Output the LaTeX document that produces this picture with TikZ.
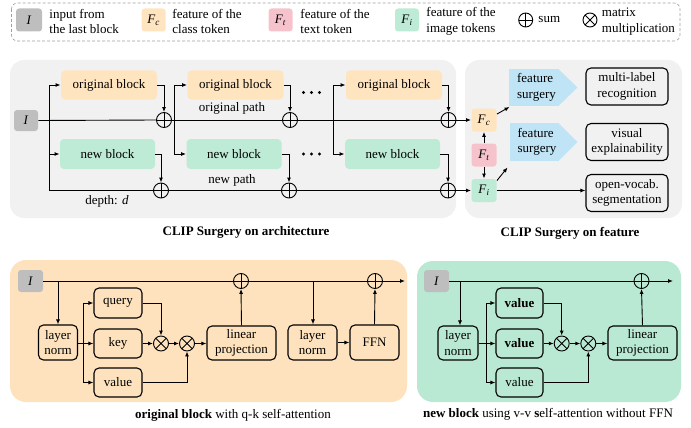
\documentclass[tikz,border=0pt]{standalone}
\usepackage{fontspec}
\setmainfont{Liberation Serif}
\usetikzlibrary{arrows.meta,calc}
\definecolor{greyB}{HTML}{BEBEBE}
\definecolor{panelgrey}{HTML}{F1F1F1}
\definecolor{orangeB}{HTML}{FFE4C0}
\definecolor{greenB}{HTML}{BDEBD6}
\definecolor{pinkB}{HTML}{F6C3CD}
\definecolor{blueB}{HTML}{BFE4F6}
\definecolor{orangeP}{HTML}{FDE2BD}
\definecolor{greenP}{HTML}{B9E9D3}
\definecolor{dashgrey}{HTML}{A0A0A0}
\begin{document}
\begin{tikzpicture}[x=1pt,y=-1pt,
  font=\fontsize{13}{15.5}\selectfont,
  line width=0.9pt,
  arr/.style={-{Latex[length=5pt,width=4pt]}},
  blk/.style={rounded corners=4pt, inner sep=0pt, align=center},
  ibox/.style={blk, fill=greyB, minimum width=25pt, minimum height=22pt, rounded corners=3pt},
  oblk/.style={blk, fill=orangeB, minimum width=96pt, minimum height=29pt},
  nblk/.style={blk, fill=greenB, minimum width=95pt, minimum height=30pt},
  fbox/.style={blk, minimum width=25pt, minimum height=23pt, rounded corners=3pt},
  fsb/.style={inner sep=0pt, fill=blueB, minimum width=49pt, minimum height=37pt, align=left},
  outb/.style={draw, rounded corners=5pt, inner sep=0pt, minimum width=82pt, minimum height=37pt, align=center, line width=1.1pt},
  inb/.style={draw, rounded corners=5pt, inner sep=0pt, align=center, line width=1.1pt},
  sumn/.style={circle, draw, minimum size=15pt, inner sep=0pt,
    path picture={\draw (path picture bounding box.north) -- (path picture bounding box.south)
      (path picture bounding box.west) -- (path picture bounding box.east);}},
  muln/.style={circle, draw, minimum size=15pt, inner sep=0pt,
    path picture={\draw (path picture bounding box.north west) -- (path picture bounding box.south east)
      (path picture bounding box.north east) -- (path picture bounding box.south west);}},
  legt/.style={anchor=west, align=left, inner sep=0pt},
]
\useasboundingbox (0,0) rectangle (691,428);

% ---------------- legend ----------------
\draw[dashgrey, dashed, dash pattern=on 3pt off 2pt, line width=0.6pt, rounded corners=6pt] (11.5,3) rectangle (680,41);
\node[ibox, minimum width=26pt, minimum height=23pt] (lgI) at (29,20) {\textit{I}};
\node[legt] (lgIt) at (49,21.5) {input from\\the last block};
\node[fbox, fill=orangeB, minimum width=24pt] (lgFc) at (153.7,20) {\textit{F}\textsubscript{\textit{c}}};
\node[legt] (lgFct) at (172,21.5) {feature of the\\class token};
\node[fbox, fill=pinkB, minimum width=24pt] (lgFt) at (280.5,20) {\textit{F}\textsubscript{\textit{t}}};
\node[legt] (lgFtt) at (300,21.5) {feature of the\\text token};
\node[fbox, fill=greenB, minimum width=24pt] (lgFi) at (407,20) {\textit{F}\textsubscript{\textit{i}}};
\node[legt] (lgFit) at (426,21.5) {feature of the\\image tokens};
\node[sumn, minimum size=14pt] (lgsum) at (525.7,20) {};
\node[legt] (lgsumt) at (538,20) {sum};
\node[muln, minimum size=14pt] (lgmul) at (590,20) {};
\node[legt] (lgmult) at (601.5,21.5) {matrix\\multiplication};

% ---------------- top panels ----------------
\fill[panelgrey, rounded corners=14pt] (10,60) rectangle (456,218);
\fill[panelgrey, rounded corners=14pt] (465,60) rectangle (682,218);

\node[ibox, minimum width=24pt, minimum height=21pt] (I1) at (26,120.5) {\textit{I}};
\node[oblk] (o1) at (109,85) {original block};
\node[oblk] (o2) at (235.5,85) {original block};
\node[oblk] (o3) at (394,85) {original block};
\node[nblk] (n1) at (107.5,154) {new block};
\node[nblk] (n2) at (234,154) {new block};
\node[nblk] (n3) at (392.5,154) {new block};
\node[sumn] (so1) at (164,120) {};
\node[sumn] (so2) at (290,120) {};
\node[sumn] (so3) at (448.5,120) {};
\node[sumn] (sn1) at (161,190.5) {};
\node[sumn] (sn2) at (289,190.5) {};
\node[sumn] (sn3) at (448,190.5) {};
\coordinate (j1) at (49,120);
\coordinate (j1b) at (49,190.5);
\coordinate (j2) at (174,120);
\coordinate (j3) at (333,120);

\node[fbox, fill=orangeB] (Fc) at (484,120) {\textit{F}\textsubscript{\textit{c}}};
\node[fbox, fill=pinkB] (Ft) at (484,155) {\textit{F}\textsubscript{\textit{t}}};
\node[fbox, fill=greenB] (Fi) at (484,190.5) {\textit{F}\textsubscript{\textit{i}}};

\draw (I1.east) -- (so1.west);
\draw (so1.east) -- (so2.west);
\draw (so2.east) -- (so3.west);
\draw[arr] (so3.east) -- (Fc.west);
\draw (j1) -- (j1b) -- (sn1.west);
\draw (sn1.east) -- (sn2.west);
\draw (sn2.east) -- (sn3.west);
\draw[arr] (sn3.east) -- (Fi.west);
\draw[arr] (j1) |- (o1.west);
\draw[arr] (j1) |- (n1.west);
\draw[arr] (j2) |- (o2.west);
\draw[arr] (j2) |- (n2.west);
\draw[arr] (j3) |- (o3.west);
\draw[arr] (j3) |- (n3.west);
\draw[arr] (o1.east) -| (so1.north);
\draw[arr] (o2.east) -| (so2.north);
\draw[arr] (o3.east) -| (so3.north);
\draw[arr] (n1.east) -| (sn1.north);
\draw[arr] (n2.east) -| (sn2.north);
\draw[arr] (n3.east) -| (sn3.north);

\foreach \x in {303.5,311.5,319.5} {\fill (\x,92.5) circle (1.7pt); \fill (\x,154) circle (1.7pt);}

\node (lop) at (232,108.5) {original path};
\node (lnp) at (232,180.5) {new path};
\node (ldep) at (107,201.5) {depth: \textit{d}};

\draw[arr] (Ft.north) -- (Fc.south);
\draw[arr] (Ft.south) -- (Fi.north);

\node[fsb] (fs1) at (533.5,87.5) {\hspace*{6pt}feature\\\hspace*{6pt}surgery};
\fill[blueB] ([xshift=-0.5pt]fs1.north east) -- ([xshift=19pt]fs1.east) -- ([xshift=-0.5pt]fs1.south east) -- cycle;
\node[fsb, minimum width=48pt, minimum height=38pt] (fs2) at (534,142) {\hspace*{6pt}feature\\\hspace*{6pt}surgery};
\fill[blueB] ([xshift=-0.5pt]fs2.north east) -- ([xshift=19pt]fs2.east) -- ([xshift=-0.5pt]fs2.south east) -- cycle;

\node[outb] (r1) at (627,86.5) {multi-label\\recognition};
\node[outb] (r2) at (627,142) {visual\\explainability};
\node[outb] (r3) at (627,193) {open-vocab.\\segmentation};

\draw[arr] ([yshift=-6pt]Fc.north east) -- ([xshift=1pt,yshift=-0.5pt]fs1.south west);
\draw[arr] ([yshift=-2pt]Fi.north east) -- ([xshift=-2pt,yshift=-6pt]fs2.south west);
\draw[arr] (Fi.east) -- (Fi.east -| r3.west);

\node[font=\fontsize{13}{15.5}\selectfont\bfseries] (t1) at (246,232.5) {CLIP Surgery on architecture};
\node[font=\fontsize{13}{15.5}\selectfont\bfseries] (t2) at (570,233) {CLIP Surgery on feature};

% ---------------- bottom left: original block ----------------
\fill[orangeP, rounded corners=16pt] (10,260) rectangle (407,402);
\node[ibox] (I2) at (30.5,281) {\textit{I}};
\node[sumn] (sa) at (241,281) {};
\node[sumn] (sb) at (375,281) {};
\coordinate (eA) at (405,281);
\coordinate (ja) at (58,281);
\coordinate (jb) at (313,281);
\node[inb, minimum width=39pt, minimum height=35pt] (ln1) at (58,342.5) {layer\\norm};
\node[inb, minimum width=48pt, minimum height=30pt] (q) at (118,303) {query};
\node[inb, minimum width=48pt, minimum height=29pt] (k) at (118,343.5) {key};
\node[inb, minimum width=48pt, minimum height=29pt] (v) at (118,382.5) {value};
\coordinate (bra) at (83,343.5);
\node[muln] (m1) at (161,343.5) {};
\node[muln] (m2) at (187,343.5) {};
\node[inb, minimum width=69pt, minimum height=34pt] (lp) at (241.5,343) {linear\\projection};
\node[inb, minimum width=49pt, minimum height=35pt] (ln2) at (312.5,342.5) {layer\\norm};
\node[inb, minimum width=49pt, minimum height=35pt] (ffn) at (374.5,342.5) {FFN};

\draw (I2.east) -- (sa.west);
\draw (sa.east) -- (sb.west);
\draw[arr] (sb.east) -- (eA);
\draw[arr] (ja) -- (ja |- ln1.north);
\draw (ln1.east |- bra) -- (bra);
\draw[arr] (bra) |- (q.west);
\draw[arr] (bra) -- (k.west);
\draw[arr] (bra) |- (v.west);
\draw[arr] (q.east) -| (m1.north);
\draw[arr] (k.east) -- (m1.west);
\draw[arr] (m1.east) -- (m2.west);
\draw[arr] (v.east) -| (m2.south);
\draw[arr] (m2.east) -- (m2.east -| lp.west);
\draw[arr] (lp.north) -- (sa.south);
\draw[arr] (jb) -- (jb |- ln2.north);
\draw[arr] (ln2.east) -- (ffn.west);
\draw[arr] (ffn.north) -- (sb.south);

\node (c1) at (233,415) {\textbf{original block} with q-k self-attention};

% ---------------- bottom right: new block ----------------
\fill[greenP, rounded corners=16pt] (417,261) rectangle (681,402);
\node[ibox] (I3) at (436.5,281) {\textit{I}};
\node[sumn] (sc) at (641.5,281) {};
\coordinate (eB) at (673,281);
\coordinate (jc) at (460,281);
\node[inb, minimum width=40pt, minimum height=34pt] (ln3) at (458,343) {layer\\norm};
\node[inb, minimum width=47pt, minimum height=30pt] (va) at (519.5,303) {\textbf{value}};
\node[inb, minimum width=47pt, minimum height=29pt] (vb) at (519.5,343.5) {\textbf{value}};
\node[inb, minimum width=47pt, minimum height=29pt] (vc) at (519.5,382.5) {value};
\coordinate (brb) at (486.7,343.5);
\node[muln] (m3) at (561.7,343.5) {};
\node[muln] (m4) at (588.3,343.5) {};
\node[inb, minimum width=69pt, minimum height=34pt] (lp2) at (642.5,343) {linear\\projection};

\draw (I3.east) -- (sc.west);
\draw[arr] (sc.east) -- (eB);
\draw[arr] (jc) -- (jc |- ln3.north);
\draw (ln3.east |- brb) -- (brb);
\draw[arr] (brb) |- (va.west);
\draw[arr] (brb) -- (vb.west);
\draw[arr] (brb) |- (vc.west);
\draw[arr] (va.east) -| (m3.north);
\draw[arr] (vb.east) -- (m3.west);
\draw[arr] (m3.east) -- (m4.west);
\draw[arr] (vc.east) -| (m4.south);
\draw[arr] (m4.east) -- (m4.east -| lp2.west);
\draw[arr] (lp2.north) -- (sc.south);

\node (c2) at (548,414) {\textbf{new block} using v-v \textbf{s}elf-attention without FFN};
\end{tikzpicture}
\end{document}
